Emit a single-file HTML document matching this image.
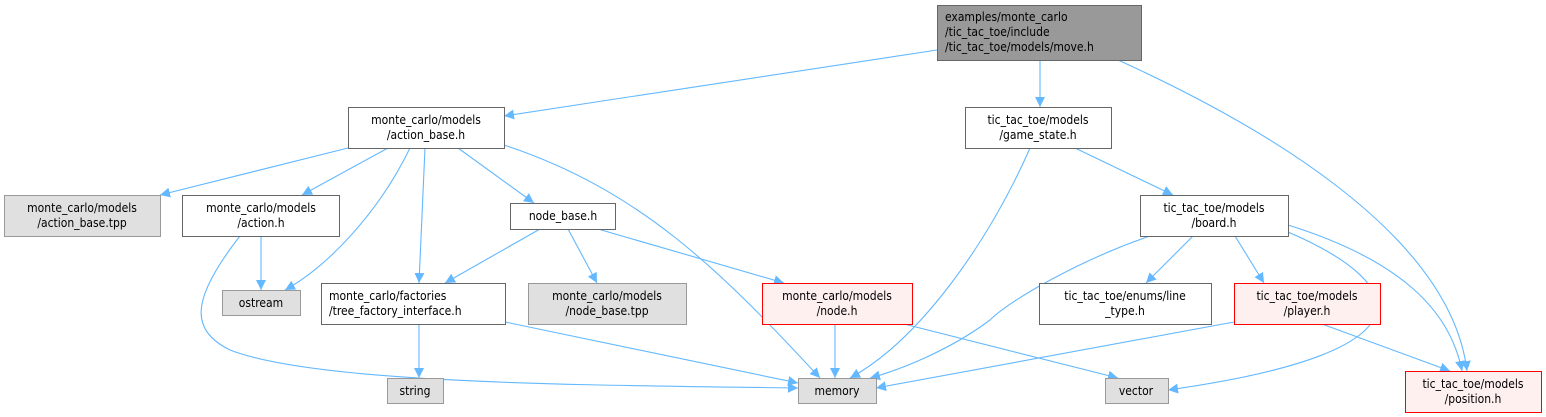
<!DOCTYPE html>
<html><head><meta charset="utf-8"><style>
html,body{margin:0;padding:0;background:#fff}
svg{display:block}
text{font-family:"DejaVu Sans Condensed","DejaVu Sans","Liberation Sans",sans-serif;font-size:12px;fill:#000;text-anchor:middle}
.e{fill:none;stroke:#63b8ff;stroke-width:1.1}
</style></head><body>
<svg width="1546" height="417" viewBox="0 0 1546 417" xmlns="http://www.w3.org/2000/svg">
<defs><marker id="a" viewBox="0 0 10 10" refX="10" refY="5" markerWidth="10" markerHeight="10" markerUnits="userSpaceOnUse" orient="auto"><path d="M0,0L10,5L0,10z" fill="#63b8ff"/></marker></defs>
<g marker-end="url(#a)">
<path class="e" d="M937,50L504,116"/>
<path class="e" d="M1040,60L1040,107"/>
<path class="e" d="M1118,60C1250,120 1450,230 1467,371"/>
<path class="e" d="M348,148L160,195"/>
<path class="e" d="M388,148L302,195"/>
<path class="e" d="M410,148C380,210 330,265 285,290"/>
<path class="e" d="M425,148L419,283"/>
<path class="e" d="M458,148L534,203"/>
<path class="e" d="M504,145C640,190 720,270 820,378"/>
<path class="e" d="M261,236L261,290"/>
<path class="e" d="M240,236C190,300 190,330 230,350C320,385 600,385 798,388"/>
<path class="e" d="M540,229L445,283"/>
<path class="e" d="M568,229L597,283"/>
<path class="e" d="M598,229L784,283"/>
<path class="e" d="M419,324L419,378"/>
<path class="e" d="M505,322L798,383"/>
<path class="e" d="M835,324L835,378"/>
<path class="e" d="M904,324L1118,378"/>
<path class="e" d="M1030,148C990,240 920,340 850,378"/>
<path class="e" d="M1075,148L1173,195"/>
<path class="e" d="M1150,236C1080,260 1010,300 990,320C950,350 900,370 870,378"/>
<path class="e" d="M1193,236L1146,283"/>
<path class="e" d="M1235,236L1264,283"/>
<path class="e" d="M1288,232C1400,280 1450,350 1168,390"/>
<path class="e" d="M1288,225C1400,260 1450,310 1462,371"/>
<path class="e" d="M1234,322L876,388"/>
<path class="e" d="M1322,324L1450,371"/>
</g>
<g stroke-width="1">
<rect x="937.5" y="5.5" width="204" height="55" fill="#999" stroke="#666"/>
<rect x="348.5" y="107.5" width="156" height="41" fill="#fff" stroke="#666"/>
<rect x="965.5" y="107.5" width="146" height="41" fill="#fff" stroke="#666"/>
<rect x="4.5" y="195.5" width="156" height="41" fill="#e0e0e0" stroke="#999"/>
<rect x="182.5" y="195.5" width="157" height="41" fill="#fff" stroke="#666"/>
<rect x="510.5" y="203.5" width="105" height="26" fill="#fff" stroke="#666"/>
<rect x="1140.5" y="195.5" width="148" height="41" fill="#fff" stroke="#666"/>
<rect x="222.5" y="290.5" width="78" height="25" fill="#e0e0e0" stroke="#999"/>
<rect x="321.5" y="283.5" width="184" height="41" fill="#fff" stroke="#666"/>
<rect x="528.5" y="283.5" width="158" height="41" fill="#e0e0e0" stroke="#999"/>
<rect x="762.5" y="283.5" width="150" height="41" fill="#fff0f0" stroke="#f00"/>
<rect x="1039.5" y="283.5" width="172" height="41" fill="#fff" stroke="#666"/>
<rect x="1234.5" y="283.5" width="146" height="41" fill="#fff0f0" stroke="#f00"/>
<rect x="387.5" y="378.5" width="56" height="25" fill="#e0e0e0" stroke="#999"/>
<rect x="798.5" y="378.5" width="78" height="25" fill="#e0e0e0" stroke="#999"/>
<rect x="1105.5" y="378.5" width="63" height="25" fill="#e0e0e0" stroke="#999"/>
<rect x="1405.5" y="371.5" width="136" height="41" fill="#fff0f0" stroke="#f00"/>
</g>
<g>
<text x="945" y="21" style="text-anchor:start">examples/monte_carlo</text>
<text x="945" y="36" style="text-anchor:start">/tic_tac_toe/include</text>
<text x="945" y="51" style="text-anchor:start">/tic_tac_toe/models/move.h</text>
<text x="426" y="124">monte_carlo/models</text><text x="426" y="139">/action_base.h</text>
<text x="1038" y="124">tic_tac_toe/models</text><text x="1038" y="139">/game_state.h</text>
<text x="82" y="212">monte_carlo/models</text><text x="82" y="227">/action_base.tpp</text>
<text x="261" y="212">monte_carlo/models</text><text x="261" y="227">/action.h</text>
<text x="563" y="220">node_base.h</text>
<text x="1214" y="212">tic_tac_toe/models</text><text x="1214" y="227">/board.h</text>
<text x="261" y="307">ostream</text>
<text x="329" y="300" style="text-anchor:start">monte_carlo/factories</text>
<text x="329" y="315" style="text-anchor:start">/tree_factory_interface.h</text>
<text x="607" y="300">monte_carlo/models</text><text x="607" y="315">/node_base.tpp</text>
<text x="837" y="300">monte_carlo/models</text><text x="837" y="315">/node.h</text>
<text x="1125" y="300">tic_tac_toe/enums/line</text><text x="1125" y="315">_type.h</text>
<text x="1307" y="300">tic_tac_toe/models</text><text x="1307" y="315">/player.h</text>
<text x="415" y="395">string</text>
<text x="837" y="395">memory</text>
<text x="1136" y="395">vector</text>
<text x="1473" y="388">tic_tac_toe/models</text><text x="1473" y="403">/position.h</text>
</g>
</svg>
</body></html>
